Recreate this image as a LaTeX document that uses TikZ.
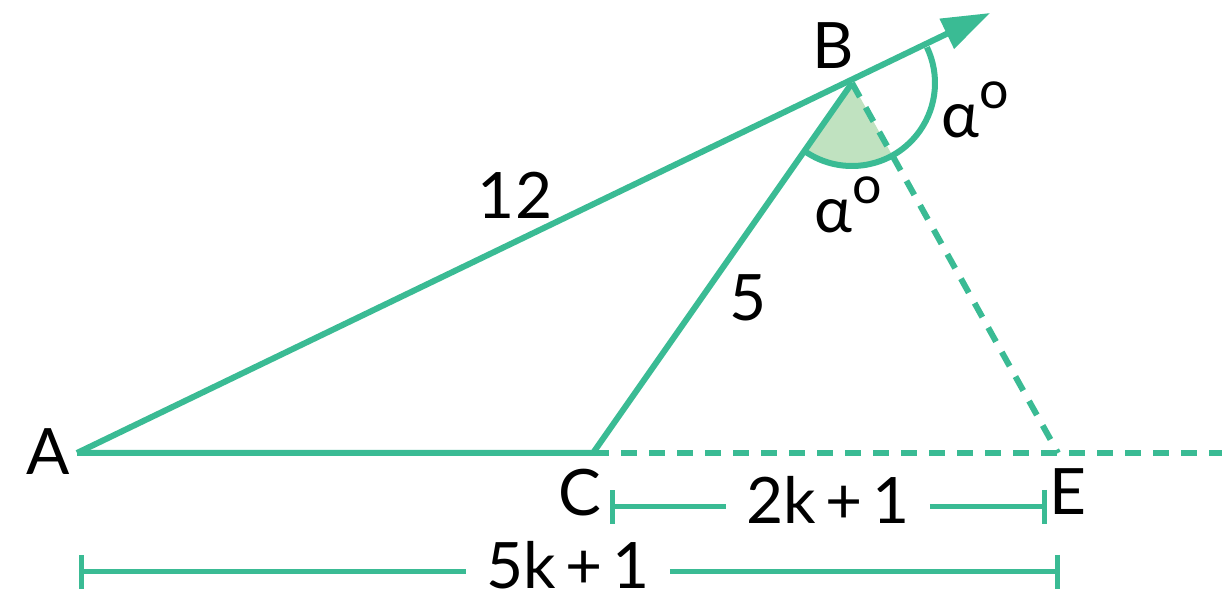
\documentclass[tikz,border=0pt]{standalone}
\usepackage{fontspec}
\setmainfont{Lato}
\usetikzlibrary{arrows.meta}
\definecolor{tgreen}{RGB}{58,187,148}
\definecolor{lgreen}{RGB}{192,226,192}
\newcommand{\degalpha}{α\raisebox{0.45em}{\fontsize{26}{28}\selectfont o}}
\begin{document}
\begin{tikzpicture}[x=0.5pt,y=0.5pt,
  geo/.style={draw=tgreen, line width=3pt},
  dashline/.style={draw=tgreen, line width=3pt, dash pattern=on 8pt off 6pt},
  lbl/.style={font=\fontsize{32}{36}\selectfont, inner sep=0pt, text=black},
  dimlbl/.style={font=\fontsize{32}{36}\selectfont, inner ysep=0pt, inner xsep=10pt, text=black},
  dimline/.style={draw=tgreen, line width=2.5pt}]
\useasboundingbox (0,0) rectangle (1222,600);
\coordinate (A) at (77,147);
\coordinate (C) at (593,147);
\coordinate (E) at (1058,147);
\coordinate (B) at (852,517);
\coordinate (T) at (990,587);
\coordinate (R) at (1222,147);
\coordinate (D1l) at (610,93);
\coordinate (D1r) at (1047,93);
\coordinate (D2l) at (79,28);
\coordinate (D2r) at (1060,28);
% angle
\fill[lgreen] (B) -- ++(235:41.5pt) arc[start angle=235,end angle=299.1,radius=41.5pt] -- cycle;
\draw[geo] (B) ++(235:41.5pt) arc[start angle=235,end angle=385.5,radius=41.5pt];
% triangle
\draw[geo] (A) -- (C) -- (B);
\draw[geo,-{Triangle[length=24pt,width=16pt]}] (A) -- (T);
\draw[dashline] (C) -- (R);
\draw[dashline] (B) -- (E);
% labels
\node[lbl] (lA) at (48,148) {A};
\node[lbl] (lB) at (833,554) {B};
\node[lbl] (lC) at (580,107) {C};
\node[lbl] (lE) at (1068,108) {E};
\node[lbl] (l12) at (515,405) {12};
\node[lbl] (l5) at (748,302) {5};
\node[lbl] (al1) at (975,490) {\degalpha};
\node[lbl] (al2) at (848,395) {\degalpha};
% dimensions
\node[dimlbl] (k2) at (828,100) {2k{\kern0.15em}+{\kern0.15em}1};
\node[dimlbl] (k5) at (568,35) {5k{\kern0.15em}+{\kern0.15em}1};
\draw[dimline,{Bar[width=17pt]}-] (D1l) -- (D1l -| k2.west);
\draw[dimline,-{Bar[width=17pt]}] (D1r -| k2.east) -- (D1r);
\draw[dimline,{Bar[width=17pt]}-] (D2l) -- (D2l -| k5.west);
\draw[dimline,-{Bar[width=17pt]}] (D2r -| k5.east) -- (D2r);
\end{tikzpicture}
\end{document}
